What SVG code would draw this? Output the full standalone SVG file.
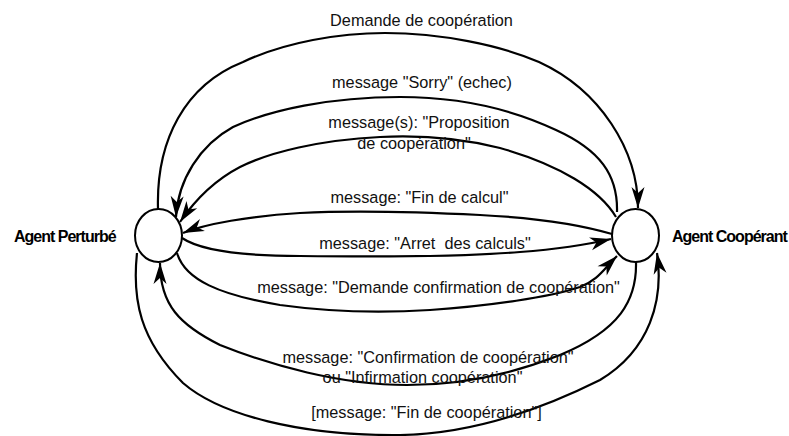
<svg xmlns="http://www.w3.org/2000/svg" width="789" height="436" viewBox="0 0 789 436">
<style>
.lbl{font-family:"Liberation Sans",Arial,sans-serif;font-size:16.3px;fill:#111;text-anchor:middle;white-space:pre}
.agent{font-family:"Liberation Sans",Arial,sans-serif;font-size:16px;font-weight:bold;letter-spacing:-1px;fill:#000}
.node{fill:#fff;stroke:#000;stroke-width:2}
.edge{fill:none;stroke:#000;stroke-width:2.2;marker-end:url(#ah)}
</style>
<defs>
<marker id="ah" viewBox="-22 -8 23 16" refX="0" refY="0" markerWidth="23" markerHeight="16" orient="auto" markerUnits="userSpaceOnUse">
<path d="M0,0 L-21,-6.5 L-15,0 L-21,6.5 Z" fill="#000"/>
</marker>
</defs>
<rect width="789" height="436" fill="#fff"/>
<g id="connectors">
<path class="edge" d="M158,209 C156,140 185,85 243,62 C285,42 340,33 385,33 C440,33 500,45 539,62 C600,90 638,150 638,208"/>
<path class="edge" d="M617,212 C618,175 600,150 556,130 C520,113 470,97 400,97 C330,97 270,110 233,127 C200,145 178,180 176,217"/>
<path class="edge" d="M616,217 C600,190 560,165 500,148 C460,138 420,135 380,137 C320,140 270,152 240,167 C215,180 195,200 180,222"/>
<path class="edge" d="M612,234 C585,226 540,218 480,215 C420,212 360,210 300,213 C250,216 205,224 183,233"/>
<path class="edge" d="M182,238 C200,250 240,256 300,256 C380,257 460,257 520,252 C560,249 590,244 611,239"/>
<path class="edge" d="M177,253 C185,280 220,295 280,305 C330,312 380,313 430,310 C490,306 550,297 580,287 C598,280 603,270 617,256"/>
<path class="edge" d="M636,262 C637,300 620,330 560,355 C510,375 460,385 407,385 C340,385 270,365 220,345 C180,325 160,305 160,263"/>
<path class="edge" d="M137,253 C132,300 140,340 183,383 C220,415 300,436 400,435 C470,434 540,410 600,380 C650,350 664,300 657,253"/>
</g>
<g id="labels">
<text class="lbl" x="421.5" y="26">Demande de coopération</text>
<text class="lbl" x="422" y="88">message "Sorry" (echec)</text>
<text class="lbl" x="419" y="128">message(s): "Proposition</text>
<text class="lbl" x="414" y="149">de coopération"</text>
<text class="lbl" x="419.5" y="203">message: "Fin de calcul"</text>
<text class="lbl" x="425" y="249">message: "Arret  des calculs"</text>
<text class="lbl" x="438.5" y="293">message: "Demande confirmation de coopération"</text>
<text class="lbl" x="428" y="363">message: "Confirmation de coopération"</text>
<text class="lbl" x="422.5" y="383">ou "Infirmation coopération"</text>
<text class="lbl" x="426.5" y="418">[message: "Fin de coopération"]</text>
</g>
<g id="agent-perturbe">
<ellipse class="node" cx="158.5" cy="235.5" rx="23.5" ry="26.5"/>
<text class="agent" x="14" y="242">Agent Perturbé</text>
</g>
<g id="agent-cooperant">
<ellipse class="node" cx="635.5" cy="235.5" rx="23.5" ry="26.5"/>
<text class="agent" x="672" y="242">Agent Coopérant</text>
</g>
</svg>
